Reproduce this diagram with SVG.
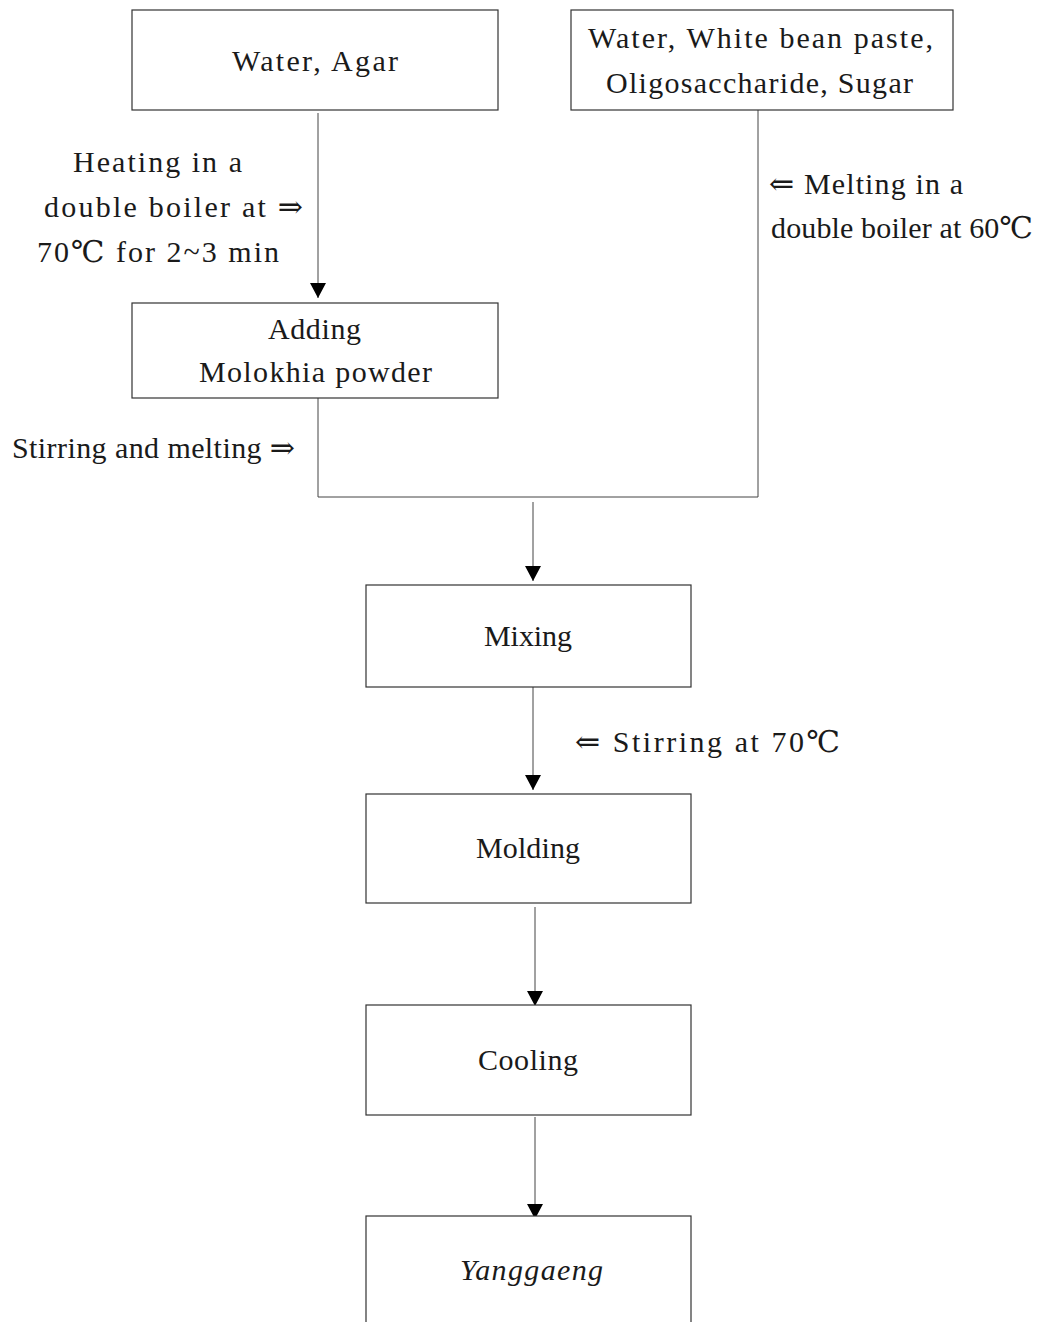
<svg xmlns="http://www.w3.org/2000/svg" width="1048" height="1322" viewBox="0 0 1048 1322">
<style>
.box{fill:#fff;stroke:#333;stroke-width:1.2}
.con{fill:none;stroke:#444;stroke-width:1}
</style>
<defs>
<marker id="ah" markerWidth="18" markerHeight="18" viewBox="0 0 18 18" refX="16" refY="9" orient="auto" markerUnits="userSpaceOnUse"><path d="M1,1 L16,9 L1,17 Z" fill="#000"/></marker>
</defs>
<rect width="1048" height="1322" fill="#fff"/>
<g id="connectors">
<path class="con" d="M318,113 V298" marker-end="url(#ah)"/>
<path class="con" d="M318,398 V497 H758 V110"/>
<path class="con" d="M533,502 V581" marker-end="url(#ah)"/>
<path class="con" d="M533,686 V790" marker-end="url(#ah)"/>
<path class="con" d="M535,907 V1006" marker-end="url(#ah)"/>
<path class="con" d="M535,1117 V1219" marker-end="url(#ah)"/>
</g>
<g font-family="Liberation Serif, DejaVu Serif, serif" font-size="30" fill="#1a1a1a">
<g id="n-water-agar">
<rect class="box" x="132" y="10" width="366" height="100"/>
<text x="232" y="71" textLength="166">Water, Agar</text>
</g>
<g id="n-water-bean">
<rect class="box" x="571" y="10" width="382" height="100"/>
<text x="588" y="48" textLength="345">Water, White bean paste,</text>
<text x="606" y="93" textLength="307">Oligosaccharide, Sugar</text>
</g>
<g id="n-adding">
<rect class="box" x="132" y="303" width="366" height="95"/>
<text x="268" y="339" textLength="93">Adding</text>
<text x="199" y="382" textLength="233">Molokhia powder</text>
</g>
<g id="n-mixing">
<rect class="box" x="366" y="585" width="325" height="102"/>
<text x="484" y="646" textLength="88">Mixing</text>
</g>
<g id="n-molding">
<rect class="box" x="366" y="794" width="325" height="109"/>
<text x="476" y="858" textLength="104">Molding</text>
</g>
<g id="n-cooling">
<rect class="box" x="366" y="1005" width="325" height="110"/>
<text x="478" y="1070" textLength="100">Cooling</text>
</g>
<g id="n-yanggaeng">
<rect class="box" x="366" y="1216" width="325" height="130"/>
<text font-style="italic" x="460" y="1280" textLength="143">Yanggaeng</text>
</g>
<g id="labels">
<text x="73" y="172" textLength="169">Heating in a</text>
<text x="44" y="217" textLength="259">double boiler at ⇒</text>
<text x="37" y="262" textLength="242">70℃ for 2~3 min</text>
<text x="769" y="194" textLength="194">⇐ Melting in a</text>
<text x="771" y="238" textLength="262">double boiler at 60℃</text>
<text x="12" y="458" textLength="283">Stirring and melting ⇒</text>
<text x="575" y="752" textLength="265">⇐  Stirring at 70℃</text>
</g>
</g>
</svg>
